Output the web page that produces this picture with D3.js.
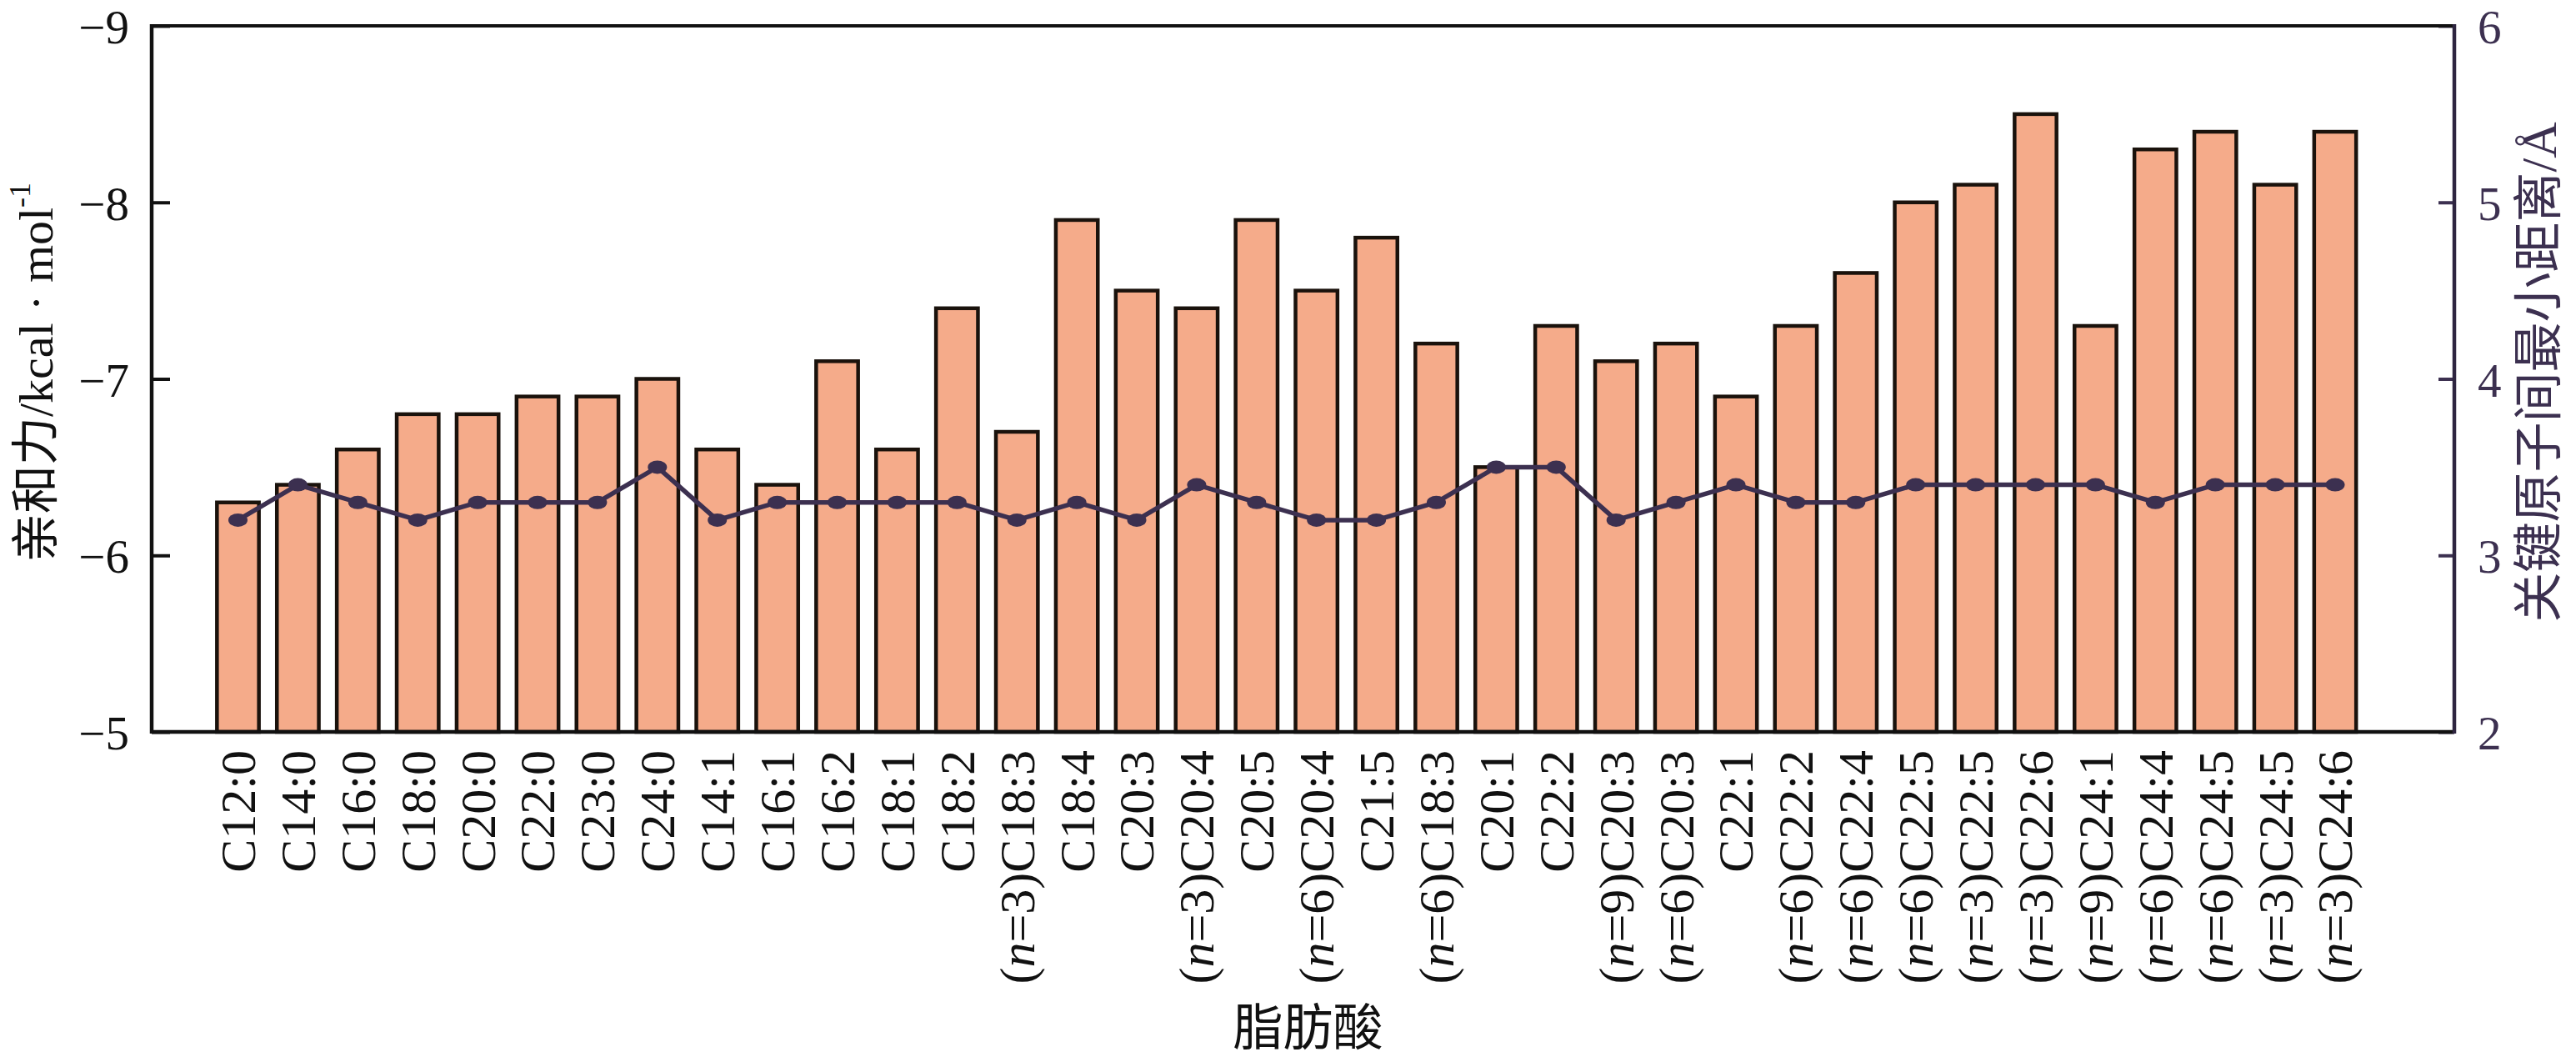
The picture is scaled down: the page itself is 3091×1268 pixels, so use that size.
<!DOCTYPE html>
<html>
<head>
<meta charset="utf-8">
<script src="https://cdn.jsdelivr.net/npm/d3@7"></script>
<style>
  html, body { margin: 0; padding: 0; background: #ffffff; }
  svg { display: block; }
</style>
</head>
<body>
<script>
// ---------------- data ----------------
const categories = [
  {pre: "", name: "C12:0"}, {pre: "", name: "C14:0"}, {pre: "", name: "C16:0"}, {pre: "", name: "C18:0"},
  {pre: "", name: "C20:0"}, {pre: "", name: "C22:0"}, {pre: "", name: "C23:0"}, {pre: "", name: "C24:0"},
  {pre: "", name: "C14:1"}, {pre: "", name: "C16:1"}, {pre: "", name: "C16:2"}, {pre: "", name: "C18:1"},
  {pre: "", name: "C18:2"}, {pre: "3", name: "C18:3"}, {pre: "", name: "C18:4"}, {pre: "", name: "C20:3"},
  {pre: "3", name: "C20:4"}, {pre: "", name: "C20:5"}, {pre: "6", name: "C20:4"}, {pre: "", name: "C21:5"},
  {pre: "6", name: "C18:3"}, {pre: "", name: "C20:1"}, {pre: "", name: "C22:2"}, {pre: "9", name: "C20:3"},
  {pre: "6", name: "C20:3"}, {pre: "", name: "C22:1"}, {pre: "6", name: "C22:2"}, {pre: "6", name: "C22:4"},
  {pre: "6", name: "C22:5"}, {pre: "3", name: "C22:5"}, {pre: "3", name: "C22:6"}, {pre: "9", name: "C24:1"},
  {pre: "6", name: "C24:4"}, {pre: "6", name: "C24:5"}, {pre: "3", name: "C24:5"}, {pre: "3", name: "C24:6"}
];
// binding affinity, kcal/mol (left axis)
const affinity = [
  -6.3, -6.4, -6.6, -6.8, -6.8, -6.9, -6.9, -7.0,
  -6.6, -6.4, -7.1, -6.6, -7.4, -6.7, -7.9, -7.5,
  -7.4, -7.9, -7.5, -7.8, -7.2, -6.5, -7.3, -7.1,
  -7.2, -6.9, -7.3, -7.6, -8.0, -8.1, -8.5, -7.3,
  -8.3, -8.4, -8.1, -8.4
];
// minimum distance between key atoms, Å (right axis)
const distance = [
  3.2, 3.4, 3.3, 3.2, 3.3, 3.3, 3.3, 3.5,
  3.2, 3.3, 3.3, 3.3, 3.3, 3.2, 3.3, 3.2,
  3.4, 3.3, 3.2, 3.2, 3.3, 3.5, 3.5, 3.2,
  3.3, 3.4, 3.3, 3.3, 3.4, 3.4, 3.4, 3.4,
  3.3, 3.4, 3.4, 3.4
];
const leftTicks = [-9, -8, -7, -6, -5];
const rightTicks = [2, 3, 4, 5, 6];
const leftDomain = [-5, -9];
const rightDomain = [2, 6];
const xTitle = "脂肪酸";
const leftTitle = "亲和力/kcal · mol";
const leftTitleSup = "-1";
const rightTitle = "关键原子间最小距离/Å";

// ---------------- layout ----------------
const W = 3091, H = 1268;
const plot = {left: 182, right: 2945, top: 31, bottom: 878};
const step = 71.9;
const firstCenter = plot.left + 103.5;
const barColor = "#F5AB8A";
const barStroke = "#1a120c";
const lineColor = "#3C3050";
const serif = "'Liberation Serif', 'Times New Roman', 'Noto Sans CJK SC', serif";

const svg = d3.select("body").append("svg")
  .attr("width", W).attr("height", H)
  .attr("viewBox", `0 0 ${W} ${H}`);
svg.append("rect").attr("width", W).attr("height", H).attr("fill", "#fff");

const idx = categories.map((d, i) => i);
const x = d3.scalePoint()
  .domain(idx)
  .range([firstCenter - step / 2, firstCenter - step / 2 + step * categories.length])
  .padding(0.5);
const barW = step * 0.70;

const yL = d3.scaleLinear().domain(leftDomain).range([plot.bottom, plot.top]);
const yR = d3.scaleLinear().domain(rightDomain).range([plot.bottom, plot.top]);

// ---------------- bars ----------------
svg.append("g").selectAll("rect")
  .data(affinity)
  .join("rect")
  .attr("x", (d, i) => x(i) - barW / 2)
  .attr("y", d => yL(d))
  .attr("width", barW)
  .attr("height", d => yL(leftDomain[0]) - yL(d))
  .attr("fill", barColor)
  .attr("stroke", barStroke)
  .attr("stroke-width", 4.5);

// ---------------- line ----------------
const line = d3.line()
  .x((d, i) => x(i))
  .y(d => yR(d))
  .curve(d3.curveLinear);
svg.append("path")
  .datum(distance)
  .attr("d", line)
  .attr("fill", "none")
  .attr("stroke", lineColor)
  .attr("stroke-width", 5.5)
  .attr("stroke-linejoin", "round");
svg.append("g").selectAll("ellipse")
  .data(distance)
  .join("ellipse")
  .attr("cx", (d, i) => x(i))
  .attr("cy", d => yR(d))
  .attr("rx", 11.5)
  .attr("ry", 8)
  .attr("fill", lineColor);

// ---------------- axes ----------------
// left axis (ticks inward)
const gL = svg.append("g").attr("transform", `translate(${plot.left},0)`)
  .call(d3.axisRight(yL).tickValues(leftTicks).tickSize(22).tickFormat(""));
gL.select(".domain").remove();
gL.selectAll(".tick line").attr("stroke", "#111").attr("stroke-width", 4);
svg.append("g").selectAll("text")
  .data(leftTicks)
  .join("text")
  .attr("x", plot.left - 27)
  .attr("y", d => yL(d) + 21)
  .attr("text-anchor", "end")
  .attr("font-family", serif)
  .attr("font-size", 57)
  .attr("fill", "#111")
  .text(d => d3.format("")(d).replace("-", "−"));

// right axis (ticks inward)
const gR = svg.append("g").attr("transform", `translate(${plot.right},0)`)
  .call(d3.axisLeft(yR).tickValues(rightTicks).tickSize(19).tickFormat(""));
gR.select(".domain").remove();
gR.selectAll(".tick line").attr("stroke", lineColor).attr("stroke-width", 4);
svg.append("g").selectAll("text")
  .data(rightTicks)
  .join("text")
  .attr("x", plot.right + 28)
  .attr("y", d => yR(d) + 21)
  .attr("text-anchor", "start")
  .attr("font-family", serif)
  .attr("font-size", 57)
  .attr("fill", lineColor)
  .text(d => d);

// frame
svg.append("line").attr("x1", plot.left).attr("x2", plot.right).attr("y1", plot.top).attr("y2", plot.top)
  .attr("stroke", "#111").attr("stroke-width", 4);
svg.append("line").attr("x1", plot.left).attr("x2", plot.right).attr("y1", plot.bottom).attr("y2", plot.bottom)
  .attr("stroke", "#111").attr("stroke-width", 4.5);
svg.append("line").attr("x1", plot.left).attr("x2", plot.left).attr("y1", plot.top - 2).attr("y2", plot.bottom + 2)
  .attr("stroke", "#111").attr("stroke-width", 4.5);
svg.append("line").attr("x1", plot.right).attr("x2", plot.right).attr("y1", plot.top - 2).attr("y2", plot.bottom + 2)
  .attr("stroke", "#2e2540").attr("stroke-width", 4.5);

// category labels
const labels = svg.append("g").selectAll("text")
  .data(categories)
  .join("text")
  .attr("transform", (d, i) => `translate(${x(i)},${plot.bottom + 22}) rotate(-90)`)
  .attr("dy", "0.34em")
  .attr("text-anchor", "end")
  .attr("font-family", serif)
  .attr("font-size", 60)
  .attr("fill", "#111");
labels.each(function(d) {
  const t = d3.select(this);
  if (d.pre) {
    t.append("tspan").text("(");
    t.append("tspan").attr("font-style", "italic").text("n");
    t.append("tspan").text("=" + d.pre + ")");
  }
  t.append("tspan").text(d.name);
});

// x title
svg.append("text")
  .attr("x", (plot.left + plot.right) / 2 + 6)
  .attr("y", 1254)
  .attr("text-anchor", "middle")
  .attr("font-family", serif)
  .attr("font-size", 60)
  .attr("fill", "#111")
  .text(xTitle);

// left title
const lt = svg.append("text")
  .attr("transform", `translate(42,${(plot.top + plot.bottom) / 2 - 8}) rotate(-90)`)
  .attr("dy", "0.36em")
  .attr("text-anchor", "middle")
  .attr("font-family", serif)
  .attr("font-size", 58)
  .attr("fill", "#111");
lt.append("tspan").text(leftTitle);
lt.append("tspan").attr("font-size", 36).attr("dy", "-0.75em").text(leftTitleSup);

// right title
svg.append("text")
  .attr("transform", `translate(3045,${(plot.top + plot.bottom) / 2 - 8}) rotate(-90)`)
  .attr("dy", "0.36em")
  .attr("text-anchor", "middle")
  .attr("font-family", serif)
  .attr("font-size", 60)
  .attr("fill", lineColor)
  .text(rightTitle);
</script>
</body>
</html>
